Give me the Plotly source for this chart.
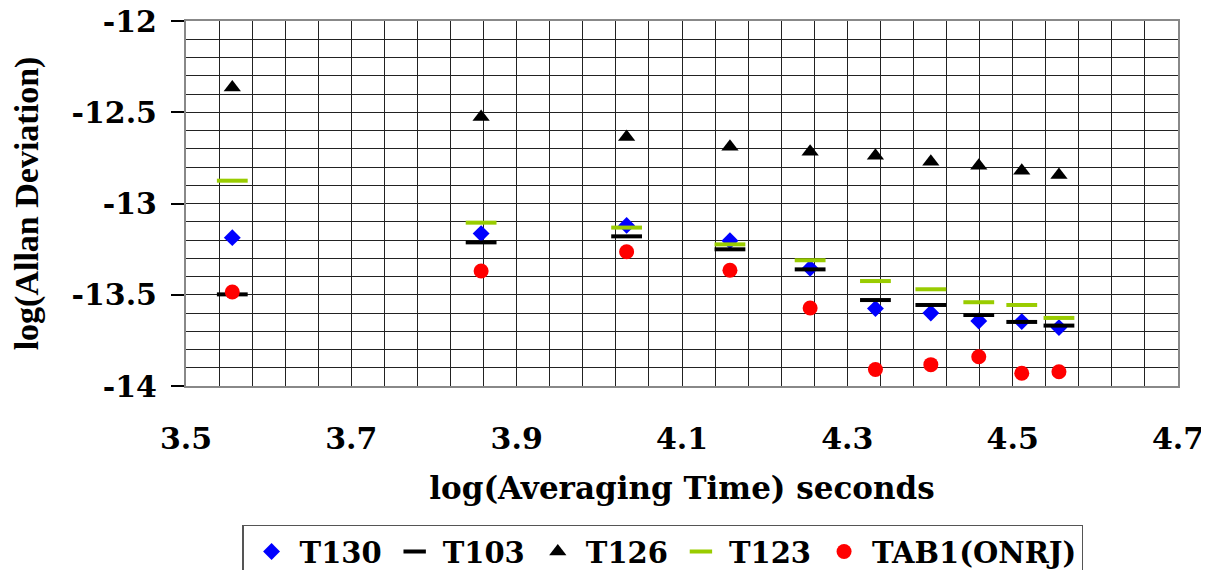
import plotly.graph_objects as go

# ---- data ----
log_tau = [3.556, 3.857, 4.033, 4.158, 4.255, 4.334, 4.401, 4.459, 4.511, 4.556]
T130 = [-13.187, -13.165, -13.120, -13.204, -13.355, -13.576, -13.600, -13.644, -13.647, -13.680]
T103 = [-13.498, -13.213, -13.180, -13.251, -13.361, -13.529, -13.556, -13.611, -13.649, -13.669]
T126 = [-12.365, -12.526, -12.636, -12.689, -12.716, -12.738, -12.771, -12.793, -12.820, -12.844]
T123 = [-12.875, -13.105, -13.132, -13.224, -13.311, -13.425, -13.470, -13.541, -13.556, -13.627]
TAB1 = [-13.485, -13.370, -13.264, -13.366, -13.573, -13.910, -13.883, -13.840, -13.930, -13.922]

x_tick_vals = [3.5, 3.7, 3.9, 4.1, 4.3, 4.5, 4.7]
x_tick_text = ["3.5", "3.7", "3.9", "4.1", "4.3", "4.5", "4.7"]
y_tick_vals = [-14, -13.5, -13, -12.5, -12]
y_tick_text = ["-14", "-13.5", "-13", "-12.5", "-12"]

x_title = "log(Averaging Time) seconds"
y_title = "log(Allan Deviation)"

fig = go.Figure()

fig.add_trace(go.Scatter(x=log_tau, y=T130, mode="markers", name="T130",
                         marker=dict(symbol="diamond", size=13, color="#0000FF")))
fig.add_trace(go.Scatter(x=log_tau, y=T103, mode="markers", name="T103",
                         marker=dict(symbol="line-ew", size=22, color="black",
                                     line=dict(color="black", width=4))))
fig.add_trace(go.Scatter(x=log_tau, y=T126, mode="markers", name="T126",
                         marker=dict(symbol="triangle-up", size=15, color="black")))
fig.add_trace(go.Scatter(x=log_tau, y=T123, mode="markers", name="T123",
                         marker=dict(symbol="line-ew", size=22, color="#99CC00",
                                     line=dict(color="#99CC00", width=4))))
fig.add_trace(go.Scatter(x=log_tau, y=TAB1, mode="markers", name="TAB1(ONRJ)",
                         marker=dict(symbol="circle", size=15, color="#FF0000")))

grid_color = "#222222"
tick_font = dict(family="DejaVu Serif", size=30, color="black", weight="bold")

fig.update_xaxes(
    range=[3.5, 4.7], tickmode="array", tickvals=x_tick_vals, ticktext=x_tick_text,
    ticks="", showgrid=True, gridcolor=grid_color, gridwidth=1,
    minor=dict(tick0=3.5, dtick=0.04, showgrid=True, gridcolor=grid_color, gridwidth=1, ticks=""),
    showline=True, linecolor="#888888", linewidth=2, mirror=True, zeroline=False,
    tickfont=tick_font, ticklabelstandoff=25, ticklabeloverflow="allow",
    title=dict(text=x_title, standoff=22,
               font=dict(family="DejaVu Serif", size=31, color="black", weight="bold")),
)
fig.update_yaxes(
    range=[-14, -12], tickmode="array", tickvals=y_tick_vals, ticktext=y_tick_text,
    ticks="outside", ticklen=13, tickwidth=1.5, tickcolor="black",
    showgrid=True, gridcolor=grid_color, gridwidth=1,
    minor=dict(tick0=-14, dtick=0.1, showgrid=True, gridcolor=grid_color, gridwidth=1, ticks=""),
    showline=True, linecolor="#888888", linewidth=2, mirror=True, zeroline=False,
    tickfont=tick_font, ticklabelstandoff=8, ticklabeloverflow="allow",
    title=dict(text=y_title, standoff=28,
               font=dict(family="Liberation Serif", size=34, color="black", weight="bold")),
)

# the page body has an 8px margin, so the figure is sized to fit 1209x570 with it
fig.update_layout(
    width=1201, height=562,
    margin=dict(l=178, r=31, t=13, b=184, autoexpand=False),
    plot_bgcolor="white", paper_bgcolor="white",
    showlegend=True,
    legend=dict(orientation="h", x=0.0565, xanchor="left", y=-0.38, yanchor="top",
                bordercolor="#555555", borderwidth=1.5, bgcolor="white",
                font=dict(family="DejaVu Serif", size=29, color="black", weight="bold"),
                itemwidth=46, itemclick=False),
)

fig.write_html("out.html")
